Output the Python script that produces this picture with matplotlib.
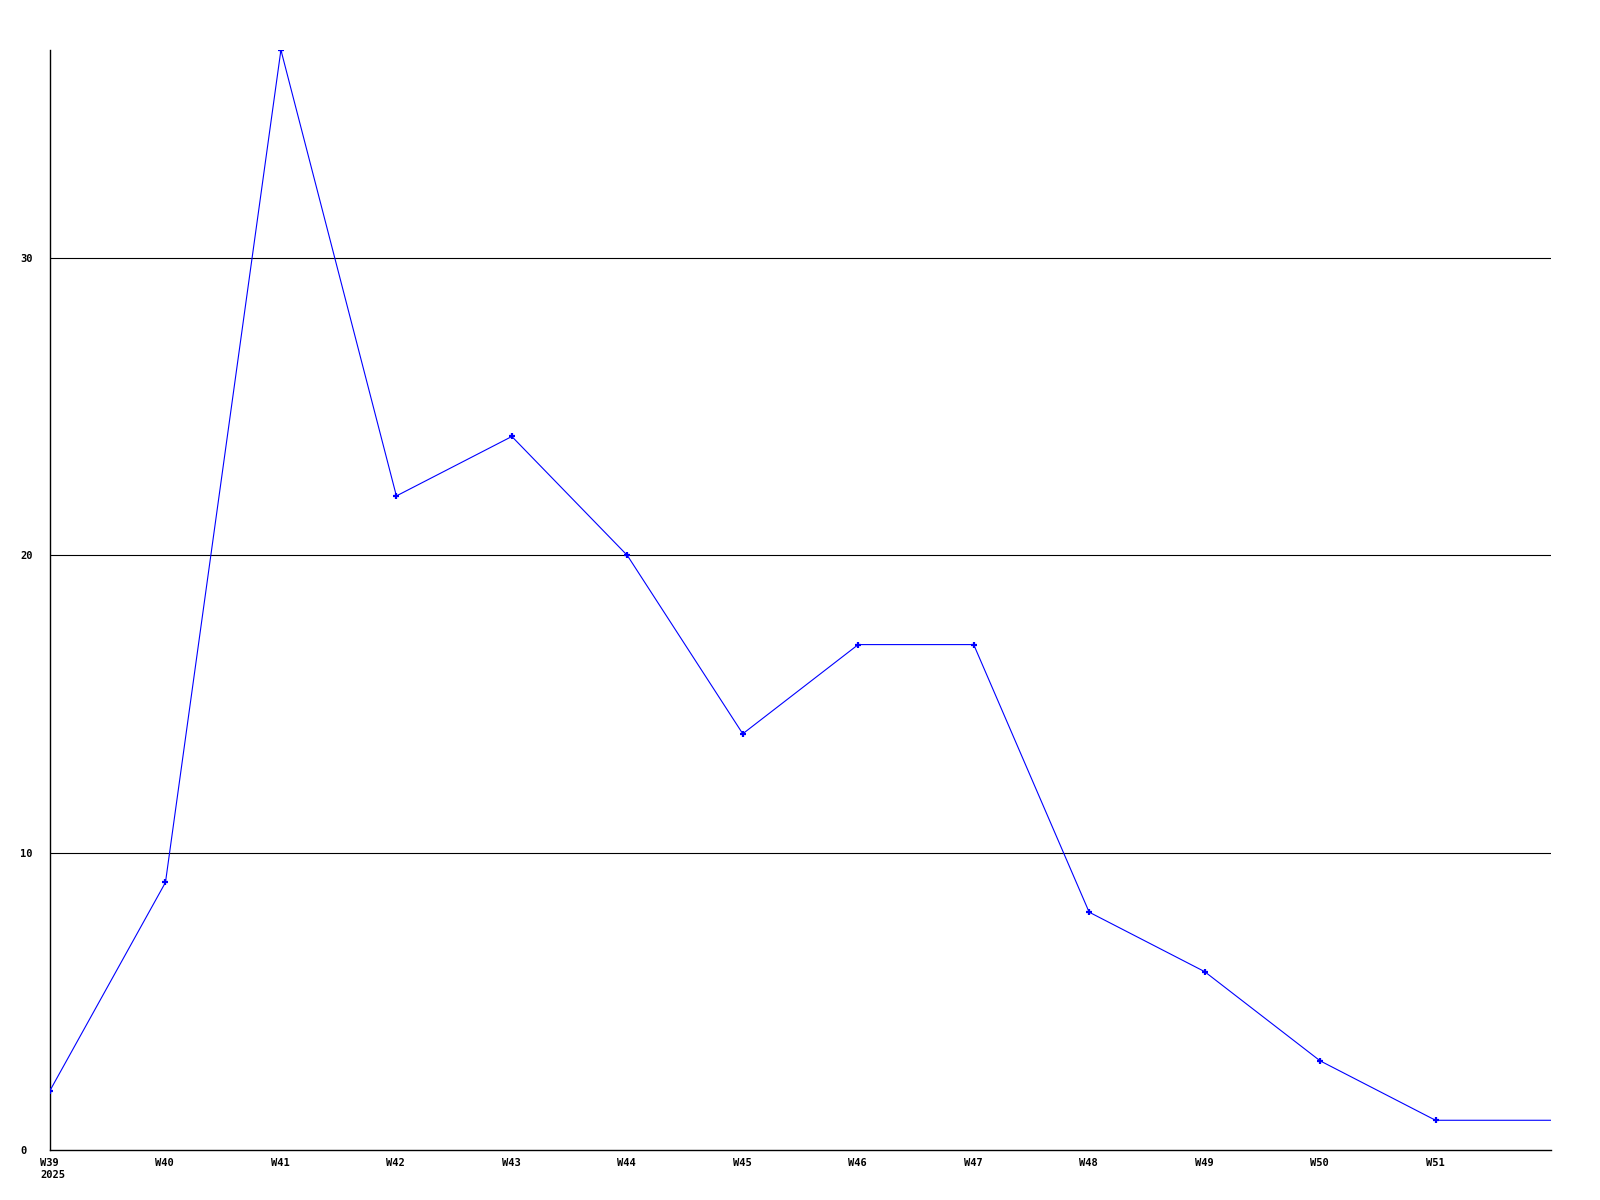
import matplotlib.pyplot as plt
import matplotlib.transforms as mtransforms

# weekly values
weeks = ["W39\n2025", "W40", "W41", "W42", "W43", "W44", "W45",
         "W46", "W47", "W48", "W49", "W50", "W51"]
values = [2, 9, 37, 22, 24, 20, 14, 17, 17, 8, 6, 3, 1, 1]
y_ticks = [0, 10, 20, 30]
grid_lines = [10, 20, 30]

fig = plt.figure(figsize=(16, 12), dpi=100)
ax = fig.add_axes([50 / 1600, 50 / 1200, 1501 / 1600, 1100 / 1200])

# horizontal reference lines
for g in grid_lines:
    ax.axhline(g, color="black", linewidth=0.8, zorder=1)

xs = list(range(len(values)))
ax.plot(xs, values, color="#0000ff", linewidth=0.8, zorder=3)
ax.plot(xs[:-1], values[:-1], linestyle="none", marker="+", markersize=4,
        markeredgewidth=1.6, color="#0000ff", zorder=4)

ax.set_xlim(0, len(values) - 1)
ax.set_ylim(0, 37)

for side in ["top", "right"]:
    ax.spines[side].set_visible(False)
for side in ["left", "bottom"]:
    ax.spines[side].set_color("black")
    ax.spines[side].set_linewidth(1.0)

font = dict(family="DejaVu Sans Mono", weight="bold", size=7.5)

ax.set_yticks(y_ticks)
ax.set_yticklabels([str(t) for t in y_ticks], **font)
ax.tick_params(axis="y", length=0, pad=21.6)
for lab in ax.get_yticklabels():
    lab.set_horizontalalignment("left")

ax.set_xticks(range(len(weeks)))
ax.set_xticklabels(weeks, **font)
ax.tick_params(axis="x", length=0, pad=6)
shift = mtransforms.ScaledTranslation(-10 / 100, 0, fig.dpi_scale_trans)
for lab in ax.get_xticklabels():
    lab.set_horizontalalignment("left")
    lab.set_multialignment("left")
    lab.set_transform(lab.get_transform() + shift)

fig.savefig("out.png", dpi=100)
